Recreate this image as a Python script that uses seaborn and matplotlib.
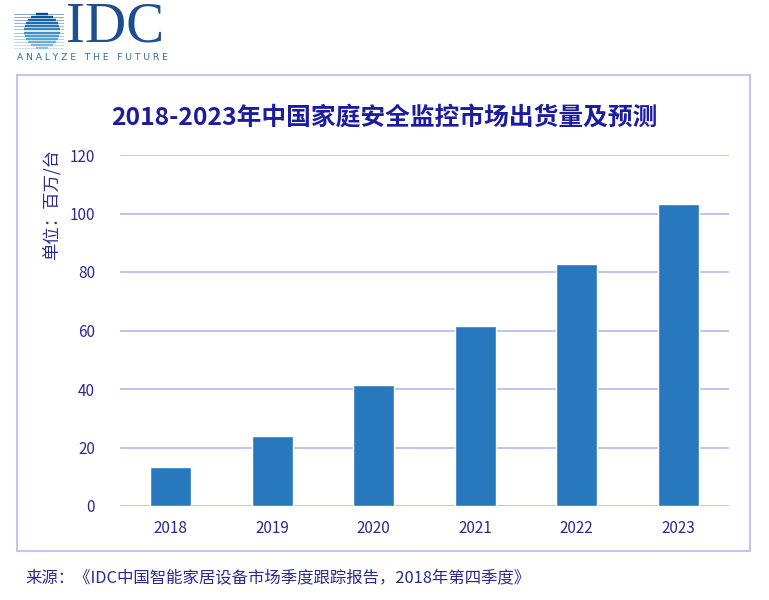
import numpy as np
import pandas as pd
import matplotlib
matplotlib.use("Agg")
import matplotlib.pyplot as plt
import seaborn as sns
from matplotlib.patches import Rectangle

# chart data
years = ["2018", "2019", "2020", "2021", "2022", "2023"]
shipments = [13.3, 24.1, 41.4, 61.7, 82.7, 103.2]
y_ticks = [0, 20, 40, 60, 80, 100, 120]

title = "2018-2023年中国家庭安全监控市场出货量及预测"
y_label = "单位：百万/台"
source = "来源：《IDC中国智能家居设备市场季度跟踪报告，2018年第四季度》"

sns.set_theme(style="white")
plt.rcParams["font.family"] = ["Noto Sans CJK SC", "DejaVu Sans"]

bar_color = "#2878BD"
text_color = "#2B2B8C"
title_color = "#1C1C9E"
grid_color = "#B8B8EE"

df = pd.DataFrame({"year": years, "value": shipments})

fig = plt.figure(figsize=(7.69, 6.0), dpi=100)
fig.patch.set_facecolor("white")

# frame around the chart
fig.patches.append(Rectangle((17 / 769, 1 - 551 / 600), 733 / 769, 476 / 600,
                             transform=fig.transFigure, fill=False,
                             edgecolor="#C4C4F2", linewidth=1.5))

ax = fig.add_axes([120 / 769, 1 - 506 / 600, 609 / 769, 351 / 600])
sns.barplot(data=df, x="year", y="value", color=bar_color, width=0.4,
            saturation=1, ax=ax)
ax.set_xlim(-0.5, len(years) - 0.5)
ax.set_ylim(0, 120)
ax.set_yticks(y_ticks)
ax.yaxis.grid(True, color=grid_color, linewidth=1.2)
ax.set_axisbelow(True)
for s in ax.spines.values():
    s.set_visible(False)
ax.tick_params(axis="both", length=0, colors=text_color, labelsize=11)
ax.tick_params(axis="y", pad=18)
ax.tick_params(axis="x", pad=10)
ax.set_xlabel("")
ax.set_ylabel("")

fig.text(384 / 769, 1 - 118 / 600, title, ha="center", va="center",
         fontsize=17.8, fontweight="bold", color=title_color)
fig.text(52 / 769, 1 - 205 / 600, y_label, rotation=90, ha="center",
         va="center", fontsize=12.5, color=text_color)
fig.text(25 / 769, 1 - 578 / 600, source, ha="left", va="center",
         fontsize=11.8, color=text_color)

# IDC logo
lax = fig.add_axes([14 / 769, 1 - 52 / 600, 50 / 769, 42 / 600])
lax.set_xlim(0, 50)
lax.set_ylim(0, 42)
lax.axis("off")
cx, cy, r = 28, 21, 18
for i, yy in enumerate(np.linspace(38, 4, 12)):
    shade = plt.cm.Blues(0.9 - i * 0.045)
    lax.plot([0, 50], [yy, yy], color=shade, linewidth=0.5, alpha=0.7)
    half = np.sqrt(max(r ** 2 - (yy - cy) ** 2, 0))
    lax.plot([cx - half, cx + half], [yy, yy], color=shade, linewidth=1.7,
             solid_capstyle="butt")
fig.text(66 / 769, 1 - 28 / 600, "IDC", ha="left", va="center",
         fontsize=41, family="Liberation Serif", color="#1D4F8C")
fig.text(17 / 769, 1 - 57 / 600, "A N A L Y Z E   T H E   F U T U R E",
         ha="left", va="center", fontsize=6.6, family="DejaVu Sans",
         color="#2E6B9E")

fig.savefig("out.png", dpi=100)
